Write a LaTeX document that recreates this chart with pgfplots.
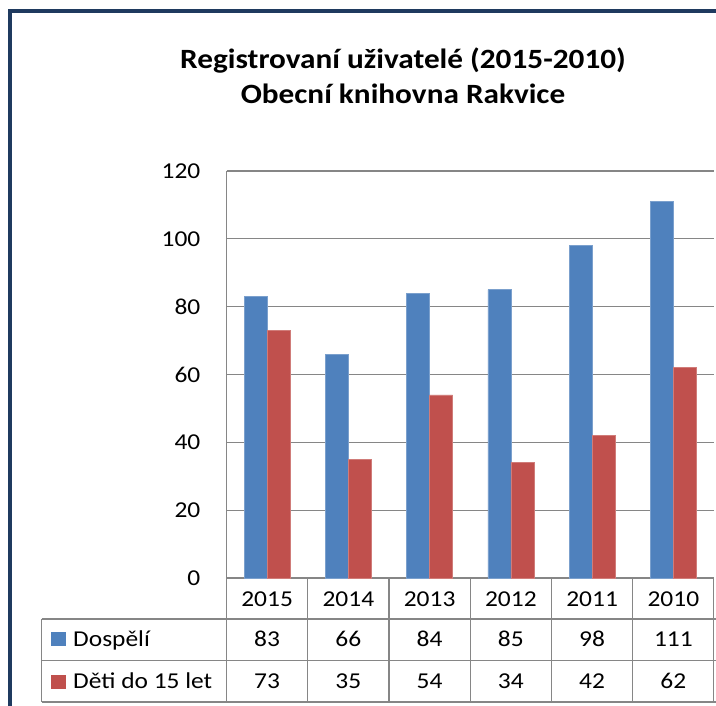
\documentclass[border=0pt]{standalone}
\usepackage{pgfplots}
\pgfplotsset{compat=1.18}
\usepackage{fontspec}
\setmainfont{Carlito}[FakeStretch=1.12]
\definecolor{barblue}{HTML}{4F81BD}
\definecolor{barred}{HTML}{C0504D}
\definecolor{gridgray}{HTML}{868686}
\definecolor{frameblue}{HTML}{1F3A5F}
\begin{document}
\begin{tikzpicture}[x=1bp,y=1bp]
\path[use as bounding box] (0,0) rectangle (716,-706);
\begin{axis}[at={(226.5bp,-578bp)}, anchor=south west,
  scale only axis, width=487.5bp, height=407bp,
  xmin=-0.5, xmax=5.5, ymin=0, ymax=120, enlargelimits=false,
  ybar=0pt, bar width=23bp,
  xtick=\empty, ytick={0,20,...,120},
  ymajorgrids, grid style={gridgray, line width=1.3bp},
  axis line style={draw=none}, major tick length=0pt,
  yticklabel style={font=\fontsize{22.8}{27}\selectfont, anchor=east, inner sep=0pt, xshift=-26bp,
    /pgf/number format/assume math mode=true},
]
\addplot[fill=barblue, draw=barblue!75!white, line width=0.6bp] coordinates {(0,83)(1,66)(2,84)(3,85)(4,98)(5,111)};
\addplot[fill=barred, draw=barred!75!white, line width=0.6bp] coordinates {(0,73)(1,35)(2,54)(3,34)(4,42)(5,62)};
\end{axis}
% frame
\draw[frameblue, line width=4bp] (10,-706) -- (10,-11) -- (716,-11);
% title
\node[anchor=base, font=\bfseries\fontsize{28}{32}\selectfont, inner sep=0pt] at (403,-68.5) {Registrovaní uživatelé (2015-2010)};
\node[anchor=base, font=\bfseries\fontsize{28}{32}\selectfont, inner sep=0pt] at (403,-104) {Obecní knihovna Rakvice};
% table lines
\begin{scope}[gridgray, line width=1.3bp]
\draw (226.5,-171) -- (226.5,-702);
\draw (41.5,-619) -- (716,-619);
\draw (41.5,-660.5) -- (716,-660.5);
\draw (41.5,-702) -- (716,-702);
\draw (41.5,-619) -- (41.5,-702);
\foreach \xx in {307.75,389,470.25,551.5,632.75,713.5} {\draw (\xx,-578) -- (\xx,-702);}
\end{scope}
\begin{scope}[font=\fontsize{22.8}{27}\selectfont]
\foreach \yr [count=\i from 0] in {2015,2014,2013,2012,2011,2010} {
  \node[anchor=base, inner sep=0pt] at (267.1+81.25*\i,-606.5) {\yr};}
\foreach \v [count=\i from 0] in {83,66,84,85,98,111} {
  \node[anchor=base, inner sep=0pt] at (267.1+81.25*\i,-646.5) {\v};}
\foreach \v [count=\i from 0] in {73,35,54,34,42,62} {
  \node[anchor=base, inner sep=0pt] at (267.1+81.25*\i,-688) {\v};}
\fill[barblue] (51,-632) rectangle (66,-646);
\fill[barred] (51,-675) rectangle (66,-689);
\node[anchor=base west, inner sep=0pt] at (73,-646.5) {Dospělí};
\node[anchor=base west, inner sep=0pt] at (73,-688) {Děti do 15 let};
\end{scope}
\end{tikzpicture}
\end{document}
